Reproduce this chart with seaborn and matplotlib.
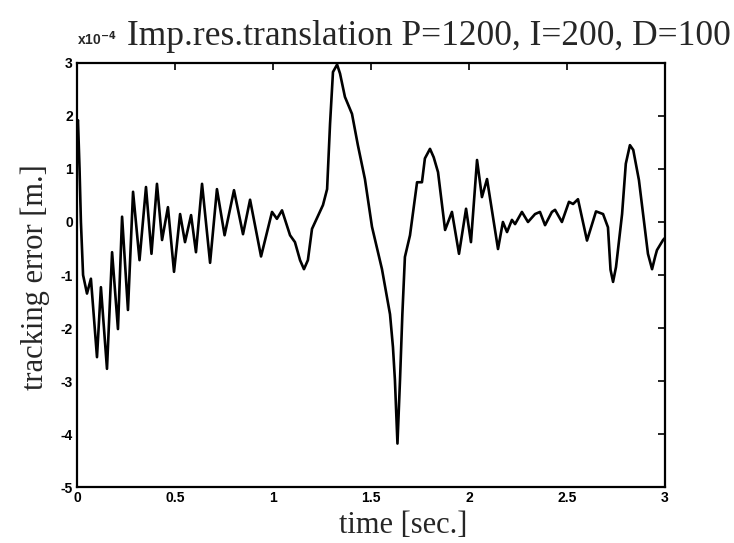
import matplotlib
matplotlib.use("Agg")
import matplotlib.pyplot as plt
import seaborn as sns
import pandas as pd

# time [s]
t = [0.000, 0.005, 0.013, 0.020, 0.031, 0.051, 0.071, 0.102, 0.122, 0.153,
     0.179, 0.209, 0.230, 0.260, 0.286, 0.319, 0.352, 0.380, 0.408, 0.434,
     0.464, 0.495, 0.526, 0.551, 0.582, 0.607, 0.638, 0.679, 0.714, 0.753,
     0.801, 0.847, 0.883, 0.939, 0.995, 1.020, 1.046, 1.087, 1.112, 1.138,
     1.158, 1.178, 1.199, 1.255, 1.276, 1.291, 1.306, 1.327, 1.342, 1.367,
     1.403, 1.433, 1.469, 1.505, 1.556, 1.597, 1.612, 1.622, 1.635, 1.648,
     1.660, 1.673, 1.699, 1.735, 1.760, 1.775, 1.801, 1.820, 1.842, 1.878,
     1.913, 1.949, 1.985, 2.010, 2.041, 2.066, 2.092, 2.148, 2.173, 2.194,
     2.219, 2.235, 2.270, 2.301, 2.337, 2.362, 2.388, 2.423, 2.439, 2.474,
     2.510, 2.531, 2.556, 2.602, 2.648, 2.684, 2.709, 2.722, 2.735, 2.750,
     2.781, 2.800, 2.821, 2.838, 2.867, 2.913, 2.934, 2.950, 2.959, 2.990,
     3.000]
# tracking error [x1e-4 m]
err = [1.85, 1.92, 1.00, 0.00, -1.00, -1.35, -1.07, -2.55, -1.23, -2.77,
       -0.57, -2.02, 0.10, -1.66, 0.57, -0.72, 0.66, -0.60, 0.72, -0.34,
       0.28, -0.94, 0.15, -0.38, 0.13, -0.57, 0.72, -0.77, 0.62, -0.25,
       0.60, -0.23, 0.42, -0.65, 0.19, 0.06, 0.22, -0.25, -0.38, -0.72,
       -0.89, -0.72, -0.13, 0.32, 0.62, 1.85, 2.83, 2.97, 2.80, 2.36,
       2.04, 1.45, 0.81, -0.09, -0.89, -1.74, -2.36, -2.98, -4.18, -2.98,
       -1.74, -0.66, -0.25, 0.75, 0.75, 1.20, 1.38, 1.22, 0.94, -0.15,
       0.19, -0.60, 0.25, -0.38, 1.17, 0.47, 0.81, -0.51, 0.00, -0.19,
       0.04, -0.04, 0.19, 0.00, 0.15, 0.19, -0.06, 0.19, 0.23, 0.00,
       0.38, 0.34, 0.43, -0.35, 0.20, 0.15, -0.10, -0.90, -1.13, -0.85,
       0.15, 1.10, 1.45, 1.36, 0.79, -0.60, -0.89, -0.65, -0.53, -0.34,
       -0.30]

xticks = [0, 0.5, 1, 1.5, 2, 2.5, 3]
xticklabels = ["0", "0.5", "1", "1.5", "2", "2.5", "3"]
yticks = [-5, -4, -3, -2, -1, 0, 1, 2, 3]
yticklabels = ["-5", "-4", "-3", "-2", "-1", "0", "1", "2", "3"]

title = "Imp.res.translation P=1200, I=200, D=100"
xlabel = "time [sec.]"
ylabel = "tracking error [m.]"

sns.set_style("white")
plt.rcParams['font.family'] = ['Liberation Serif', 'DejaVu Serif']

fig = plt.figure(figsize=(7.34, 5.43), dpi=100)
ax = fig.add_axes([0.1049, 0.1031, 0.8011, 0.7809])

df = pd.DataFrame({"t": t, "err": err})
sns.lineplot(data=df, x="t", y="err", ax=ax, color="black", linewidth=1.9,
             estimator=None, sort=False)

ax.set_xlim(0, 3)
ax.set_ylim(-5, 3)
ax.set_xticks(xticks)
ax.set_xticklabels(xticklabels, family="Liberation Sans", fontweight="bold", fontsize=10)
ax.set_yticks(yticks)
ax.set_yticklabels(yticklabels, family="Liberation Sans", fontweight="bold", fontsize=10)
ax.tick_params(direction="in", length=5, width=1.2, top=True, right=True,
               pad=3, colors="black")
for s in ax.spines.values():
    s.set_visible(True)
    s.set_linewidth(1.6)
    s.set_color("black")
ax.set_xlabel("")
ax.set_ylabel("")

fig.text(0.1735, 0.918, title, fontsize=25.5, ha="left", va="baseline",
         family="Liberation Serif")
fig.text(0.105, 0.918, r"x10$^{\mathbf{-4}}$", fontsize=10, fontweight="bold",
         ha="left", va="baseline", family="Liberation Sans")
fig.text(0.549, 0.018, xlabel, fontsize=22, ha="center", va="baseline",
         family="Liberation Serif")
fig.text(0.048, 0.49, ylabel, fontsize=22, ha="center", va="center",
         rotation=90, family="Liberation Serif")

fig.savefig("out.png", dpi=100, facecolor="white")
